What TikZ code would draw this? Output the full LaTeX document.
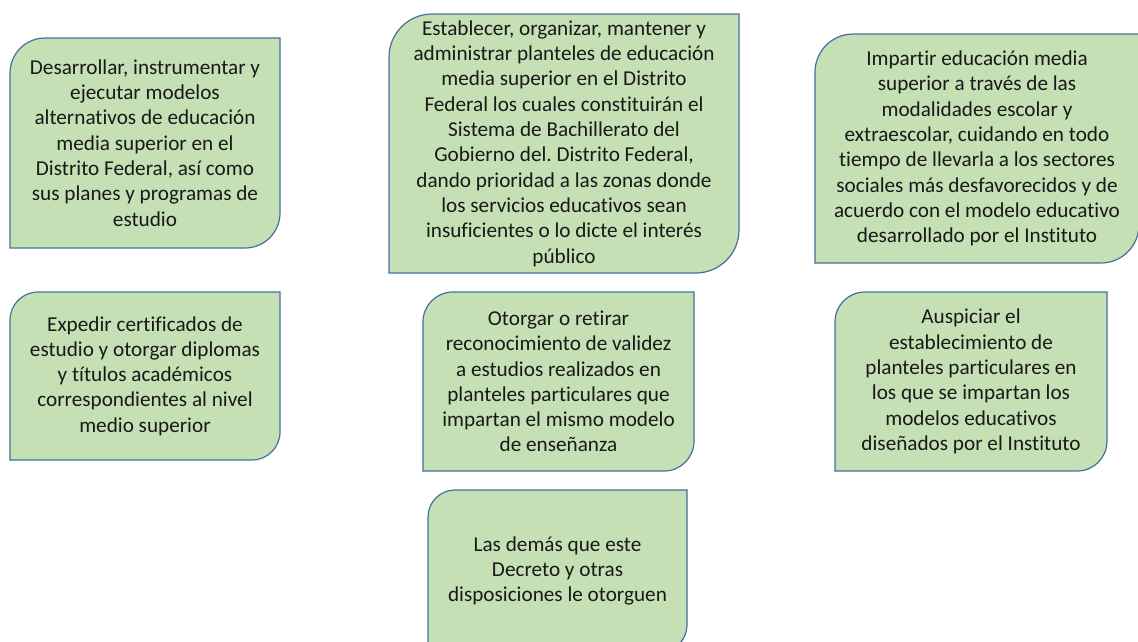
\documentclass[tikz,border=0pt]{standalone}
\usepackage{fontspec}
\setmainfont{Carlito}[Ligatures=NoCommon]
\usetikzlibrary{positioning}
\definecolor{boxgreen}{RGB}{197,224,180}
\definecolor{boxblue}{RGB}{65,113,156}
\frenchspacing

% green box with round top-left and bottom-right corners
% #1 name, #2 left, #3 top, #4 right, #5 bottom (pixels, y down), #6 text
\newcommand{\greenbox}[6]{%
	\pgfmathsetmacro\rad{min(#4-#2,#5-#3)/6}%
	\draw[boxline] (#2,-#5) -- (#2,-#3-\rad) arc[start angle=180,end angle=90,radius=\rad]
		-- (#4,-#3) -- (#4,-#5+\rad) arc[start angle=0,end angle=-90,radius=\rad] -- cycle;
	\node[boxtext] (#1) at ({(#2+#4)/2},{-(#3+#5)/2}) {#6};%
}

\begin{document}
\begin{tikzpicture}[x=1pt,y=1pt,
	boxline/.style={fill=boxgreen,draw=boxblue,line width=1.2pt},
	boxtext/.style={align=center,inner sep=0pt,text=black!90,font=\fontsize{21.2}{25.3}\selectfont}]
		\clip (0,0) rectangle (1138,-641);
		\greenbox{desarrollar}{10}{38}{280}{248}{Desarrollar, instrumentar y\\ejecutar modelos\\alternativos de educación\\media superior en el\\Distrito Federal, así como\\sus planes y programas de\\estudio}
		\greenbox{establecer}{389}{14}{739}{273}{Establecer, organizar, mantener y\\administrar planteles de educación\\media superior en el Distrito\\Federal los cuales constituirán el\\Sistema de Bachillerato del\\Gobierno del. Distrito Federal,\\dando prioridad a las zonas donde\\los servicios educativos sean\\insuficientes o lo dicte el interés\\público}
		\greenbox{impartir}{815}{34}{1139}{263}{Impartir educación media\\superior a través de las\\modalidades escolar y\\extraescolar, cuidando en todo\\tiempo de llevarla a los sectores\\sociales más desfavorecidos y de\\acuerdo con el modelo educativo\\desarrollado por el Instituto}
		\greenbox{expedir}{10}{292}{280}{460}{Expedir certificados de\\estudio y otorgar diplomas\\y títulos académicos\\correspondientes al nivel\\medio superior}
		\greenbox{otorgar}{423}{292}{694}{471}{Otorgar o retirar\\reconocimiento de validez\\a estudios realizados en\\planteles particulares que\\impartan el mismo modelo\\de enseñanza}
		\greenbox{auspiciar}{835}{292}{1107}{471}{Auspiciar el\\establecimiento de\\planteles particulares en\\los que se impartan los\\modelos educativos\\diseñados por el Instituto}
		\greenbox{demas}{428}{490}{687}{652}{Las demás que este\\Decreto y otras\\disposiciones le otorguen}
	\end{tikzpicture}
\end{document}
